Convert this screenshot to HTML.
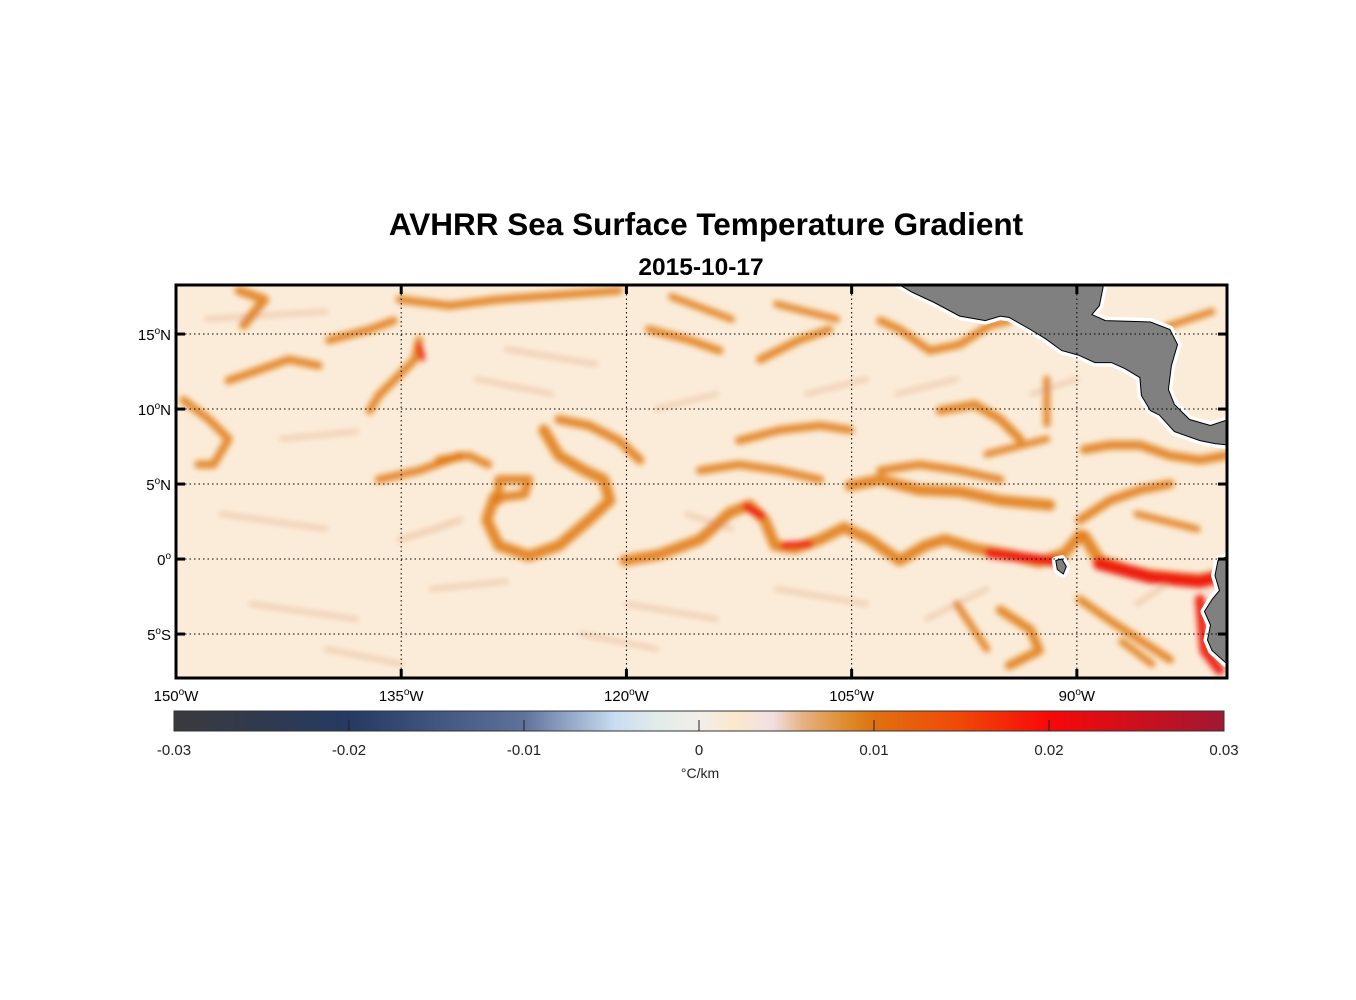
<!DOCTYPE html>
<html><head><meta charset="utf-8"><style>
html,body{margin:0;padding:0;background:#fff;}
svg{display:block;font-family:"Liberation Sans",Arial,sans-serif;}
</style></head><body>
<svg id="chart" width="1356" height="1000" viewBox="0 0 1356 1000" xmlns="http://www.w3.org/2000/svg">
<defs>
<filter id="blur" x="-10%" y="-10%" width="120%" height="120%"><feGaussianBlur stdDeviation="2.8"/></filter>
<clipPath id="mapclip"><rect x="176" y="285" width="1051" height="393"/></clipPath>
<linearGradient id="cbgrad" x1="0" x2="1" y1="0" y2="0">
<stop offset="0" stop-color="#3a3a3c"/><stop offset="0.167" stop-color="#253a63"/>
<stop offset="0.333" stop-color="#5e729c"/><stop offset="0.42" stop-color="#c8dcf2"/>
<stop offset="0.46" stop-color="#e2ecea"/><stop offset="0.5" stop-color="#f2eeea"/>
<stop offset="0.535" stop-color="#fce8cc"/><stop offset="0.57" stop-color="#f0e0e2"/>
<stop offset="0.6" stop-color="#e6b080"/><stop offset="0.64" stop-color="#de8c2c"/>
<stop offset="0.667" stop-color="#e07010"/><stop offset="0.75" stop-color="#f04808"/>
<stop offset="0.833" stop-color="#f80808"/><stop offset="1" stop-color="#a01832"/>
</linearGradient>
</defs>
<text x="706" y="235" text-anchor="middle" font-size="31.5" font-weight="bold">AVHRR Sea Surface Temperature Gradient</text>
<text x="701" y="275" text-anchor="middle" font-size="24.5" font-weight="bold">2015-10-17</text>
<g id="map" clip-path="url(#mapclip)">
<rect x="176" y="285" width="1051" height="393" fill="#fbecd9"/>
<g id="fronts" filter="url(#blur)"></g>
<g id="land"></g>
<g id="grid"></g>
</g>
<rect x="176" y="285" width="1051" height="393" fill="none" stroke="#000" stroke-width="3"/>
<g id="ticks"></g>
<g id="colorbar">
<rect x="174" y="711" width="1050" height="20" fill="url(#cbgrad)" stroke="#333" stroke-width="1"/>
<g id="cbticks"></g>
<text x="700" y="778" text-anchor="middle" font-size="14" fill="#222">°C/km</text>
</g>
</svg>
<script>
const NS="http://www.w3.org/2000/svg";
const lonMin=-150, lonMax=-80, latMin=-7.93, latMax=18.27;
const lonTicks=[-150,-135,-120,-105,-90];
const latTicks=[15,10,5,0,-5];
const cbValues=[-0.03,-0.02,-0.01,0,0.01,0.02,0.03];
const cbLabels=["-0.03","-0.02","-0.01","0","0.01","0.02","0.03"];
// fronts: [intensity, width, points lon/lat]
const fronts=[
[0,5,[[-148,16],[-140,16.5]]],[0,5,[[-147,3],[-140,2]]],[0,5,[[-145,-3],[-138,-4]]],
[0,5,[[-130,12],[-125,11]]],[0,5,[[-128,14],[-122,13]]],[0,5,[[-118,10],[-114,11]]],
[0,5,[[-116,3],[-113,2]]],[0,5,[[-120,-3],[-114,-4]]],[0,5,[[-110,-2],[-104,-3]]],
[0,5,[[-100,-4],[-96,-2]]],[0,5,[[-102,11],[-98,12]]],[0,5,[[-108,11],[-104,12]]],
[0,5,[[-93,11],[-90,12]]],[0,5,[[-86,-3],[-83,-1]]],[0,5,[[-143,8],[-138,8.5]]],
[0,5,[[-133,-2],[-128,-1.5]]],[0,5,[[-123,-5],[-118,-6]]],[0,5,[[-140,-6],[-135,-7]]],
[1,7,[[-92,12],[-92,9]]],[1,7,[[-86,3],[-82,2]]],[1,7,[[-96,7],[-92,8]]],
[1,7,[[-117,17.5],[-113,16]]],[1,7,[[-110,17],[-106,16]]],[1,7,[[-98,-3],[-96,-6]]],
[1,7,[[-84,15.5],[-81,16.5]]],[1,7,[[-87,-5.5],[-85,-7]]],
[1,11,[[-120.1,-0.1],[-117.8,0.3],[-115.1,1.3],[-113.1,3.1],[-111.8,3.6],[-110.8,2.6],[-110.1,0.9],[-108.8,0.7],[-107.1,1.3],[-105.5,2.1],[-103.8,1.3],[-101.8,-0.1],[-100.1,0.9],[-98.8,1.3],[-96.8,0.7],[-94.5,0.3],[-92.5,-0.2],[-90.8,0.4],[-89.8,1.6]]],
[1,11,[[-128.8,4.1],[-129.3,2.6],[-128.5,0.9],[-126.5,0.2],[-124.5,0.9],[-122.5,2.6],[-121.1,3.9],[-121.5,5.3],[-122.8,5.9],[-124.5,6.9],[-125.5,8.6]]],
[1,9,[[-128.5,3.9],[-128.5,5.3],[-126.5,5.3],[-126.8,4.3],[-128.5,4.1]]],
[1,8,[[-132.5,6.6],[-130.5,6.9],[-129.2,6.3]]],
[1,11,[[-105.1,4.9],[-103.1,5.3],[-100.5,4.6],[-97.8,4.5],[-95.1,3.9],[-91.8,3.6]]],
[1,8,[[-103.1,5.9],[-100.5,6.3],[-97.8,5.9],[-95.1,5.3]]],
[1,9,[[-99.1,9.9],[-96.8,10.3],[-95.1,9.3],[-93.8,8]]],
[1,9,[[-89.5,7.3],[-87.8,7.6],[-85.8,7.6],[-83.8,6.9],[-81.8,6.6],[-80.1,6.9]]],
[1,9,[[-89.8,2.6],[-87.8,3.9],[-85.8,4.6],[-83.8,5]]],
[1,9,[[-145.8,17.9],[-144.1,17.3],[-145.5,15.6]]],
[1,8,[[-149.5,10.6],[-147.8,9.3],[-146.5,8],[-147.5,6.3],[-148.5,6.3]]],
[1,8,[[-146.5,11.9],[-144.5,12.6],[-142.5,13.3],[-140.5,12.9]]],
[1,8,[[-139.8,14.6],[-137.1,15.3],[-135.5,15.9]]],
[1,8,[[-135.1,17.3],[-131.8,16.9],[-128.5,17.3],[-124.5,17.6],[-120.5,17.9]]],
[1,8,[[-133.8,14.6],[-134.1,13.3],[-135.1,12.3],[-136.5,10.9],[-137.1,9.9]]],
[1,9,[[-124.5,9.3],[-122.5,8.9],[-120.5,7.9],[-119.1,6.6]]],
[1,8,[[-118.5,15.3],[-115.8,14.6],[-113.8,13.9]]],
[1,8,[[-112.5,7.9],[-109.8,8.6],[-107.1,8.9],[-105.1,8.6]]],
[1,8,[[-115.1,5.9],[-112.5,6.3],[-109.8,5.9],[-107.1,5.3]]],
[1,8,[[-103.1,15.9],[-101.8,15.3],[-99.8,13.9],[-97.8,14.3],[-95.8,15.6],[-94.5,15.9]]],
[1,9,[[-95.1,-3.4],[-93.1,-4.7],[-92.5,-6.1],[-94.5,-7.1]]],
[1,8,[[-89.8,-2.7],[-87.8,-4.1],[-85.8,-5.4],[-83.8,-6.7]]],
[1,8,[[-136.5,5.3],[-133.8,5.9],[-131.1,6.9]]],
[1,8,[[-111.1,13.3],[-108.5,14.6],[-106.5,15.3]]],
[0,6,[[-135.1,1.3],[-133.1,1.9],[-131.1,2.6]]],
[1,12,[[-89.5,1.5],[-88.5,-0.1],[-86.5,-0.8],[-85.1,-1.1],[-81.8,-1.4],[-80.5,-1.1]]],
[2,10,[[-95.8,0.4],[-93.5,0.1],[-91.1,-0.2]]],
[2,13,[[-88.5,-0.3],[-85.1,-1.2],[-81.8,-1.5],[-80.5,-1.2]]],
[2,10,[[-81.8,-2.7],[-81.5,-6.1],[-80.5,-7.4]]],
[2,8,[[-112.0,3.5],[-111.0,2.9]]],
[2,6,[[-133.8,14.2],[-133.6,13.4]]],
[2,7,[[-109.5,0.9],[-107.8,1.0]]]
];
const centralAmerica=[[-102,18.4],[-88.2,18.4],[-88.5,16.9],[-89,16.3],[-88.1,15.9],[-85.1,15.8],[-83.8,15.3],[-83.3,14.3],[-83.7,12.9],[-83.9,11.3],[-83.5,10.3],[-82.5,9.3],[-81.1,8.9],[-79.9,9.3],[-79.9,7.6],[-80.8,7.7],[-81.8,7.9],[-83.5,8.5],[-84.5,9.6],[-85.1,9.9],[-85.7,10.9],[-85.8,12.1],[-86.8,12.7],[-87.7,13.1],[-88.8,13.1],[-89.9,13.6],[-91,13.9],[-92.1,14.7],[-93.1,15.3],[-94.5,16.1],[-95.1,16.2],[-96.1,15.9],[-97.8,16.2],[-99.5,17.1],[-101,17.8]];
const southAmerica=[[-79.9,0.2],[-80.6,-0.1],[-80.8,-1.1],[-80.5,-2.1],[-81,-2.7],[-81.5,-3.5],[-81.1,-4.4],[-81.3,-5.4],[-81,-6.1],[-80.1,-6.9],[-79.9,-7.0]];
const galapagos=[[-91.4,-0.1],[-91.0,0.0],[-90.7,-0.5],[-90.9,-1.0],[-91.3,-0.7]];

const X=lon=>176+(lon-lonMin)/(lonMax-lonMin)*1051;
const Y=lat=>285+(latMax-lat)/(latMax-latMin)*393;
const cbX=v=>174+(v+0.03)/0.06*1050;
const mk=(t,p,a)=>{const e=document.createElementNS(NS,t);for(const k in a)e.setAttribute(k,a[k]);p.appendChild(e);return e;};
const ptStr=pts=>pts.map(p=>X(p[0]).toFixed(1)+","+Y(p[1]).toFixed(1)).join(" ");

const fg=document.getElementById("fronts");
fronts.forEach((f,i)=>{
  const col=f[0]===2?"#ee1a0a":(f[0]===1?"#e07812":"#eac1a0");
  const op=f[0]===2?0.95:(f[0]===1?0.85:0.7);
  const el=mk("polyline",fg,{points:ptStr(f[2]),fill:"none",stroke:col,"stroke-width":f[1],"stroke-linecap":"round","stroke-linejoin":"round","stroke-opacity":op});
  
  
});
const lg=document.getElementById("land");
[[centralAmerica,"central-america-land"],[southAmerica,"south-america-land"],[galapagos,"galapagos-land"]].forEach(([poly,name])=>{
  const h=mk("polygon",lg,{points:ptStr(poly),fill:"none",stroke:"#fff","stroke-width":8,"stroke-linejoin":"round"});
  
  
  const el=mk("polygon",lg,{points:ptStr(poly),fill:"#808080",stroke:"#000","stroke-width":1});
  
  
});
const gg=document.getElementById("grid");
lonTicks.slice(1).forEach(l=>{
  const el=mk("line",gg,{x1:X(l),x2:X(l),y1:285,y2:678,stroke:"#000","stroke-width":1,"stroke-dasharray":"1.5,3"});
  
  
});
latTicks.forEach(l=>{
  const el=mk("line",gg,{x1:176,x2:1227,y1:Y(l),y2:Y(l),stroke:"#000","stroke-width":1,"stroke-dasharray":"1.5,3"});
  
  
});
const tg=document.getElementById("ticks");
lonTicks.forEach(l=>{
  const x=X(l);
  [[285,294],[669,678]].forEach(([a,b])=>{
    const t=mk("line",tg,{x1:x,x2:x,y1:a,y2:b,stroke:"#000","stroke-width":3});
    
    
  });
  const tx=mk("text",tg,{x:x,y:701,"text-anchor":"middle","font-size":15});
  
  
  tx.innerHTML=Math.abs(l)+'<tspan dy="-6" font-size="10">o</tspan><tspan dy="6">W</tspan>';
});
latTicks.forEach(l=>{
  const y=Y(l);
  [[176,185],[1218,1227]].forEach(([a,b])=>{
    const t=mk("line",tg,{x1:a,x2:b,y1:y,y2:y,stroke:"#000","stroke-width":3});
    
    
  });
  const tx=mk("text",tg,{x:171,y:y+6,"text-anchor":"end","font-size":15});
  
  
  const h=l>0?"N":(l<0?"S":"");
  tx.innerHTML=Math.abs(l)+'<tspan dy="-6" font-size="10">o</tspan><tspan dy="6">'+h+'</tspan>';
});
const cg=document.getElementById("cbticks");
cbValues.forEach((v,i)=>{
  const x=cbX(v);
  if(i>0&&i<cbValues.length-1){
    const t=mk("line",cg,{x1:x,x2:x,y1:720,y2:731,stroke:"#222","stroke-width":1});
    
    
  }
  const tx=mk("text",cg,{x:x,y:755,"text-anchor":"middle","font-size":15,fill:"#222"});
  
  
  tx.textContent=cbLabels[i];
});
</script>
</body></html>
